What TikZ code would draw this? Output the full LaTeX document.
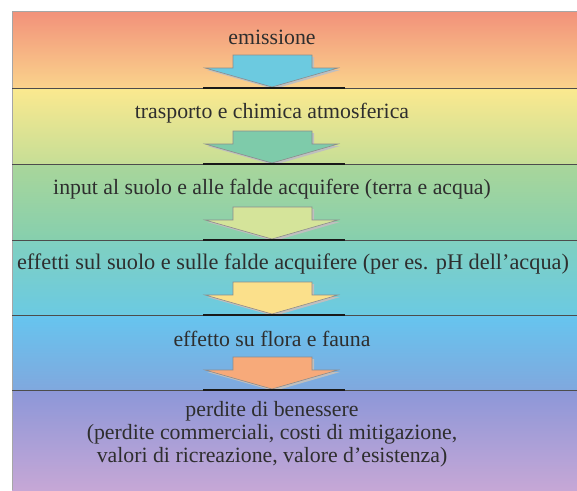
\documentclass[tikz,border=0pt]{standalone}
\usepackage{fontspec}
\setmainfont{Liberation Serif}
\newfontfamily\tnrfont{Liberation Serif}
\begin{document}
\begin{tikzpicture}[x=1pt,y=-1pt,
  lbl/.style={font=\tnrfont\fontsize{21.8}{23}\selectfont, text=black!82, inner sep=0pt, align=center},
  divider/.style={draw=black!70, line width=0.8pt},
  base/.style={draw=black!90, line width=1.8pt},
  blockarrow/.style={draw=black!45, line width=0.6pt, line join=miter}]
\useasboundingbox (0,0) rectangle (577,490);
\definecolor{cA}{HTML}{F2917A}\definecolor{cB}{HTML}{FAD38C}
\definecolor{cC}{HTML}{FBE98F}\definecolor{cD}{HTML}{C6DE96}
\definecolor{cE}{HTML}{A9D69A}\definecolor{cF}{HTML}{86CFAE}
\definecolor{cG}{HTML}{80D0C0}\definecolor{cH}{HTML}{6BCAE2}
\definecolor{cI}{HTML}{66C5EF}\definecolor{cJ}{HTML}{80A8DE}
\definecolor{cK}{HTML}{8C97D8}\definecolor{cL}{HTML}{C6A7D6}
\definecolor{a1}{HTML}{6CCAE0}\definecolor{a2}{HTML}{7ECBAA}
\definecolor{a3}{HTML}{D5E49A}\definecolor{a4}{HTML}{FBE08B}
\definecolor{a5}{HTML}{F7AA7A}
% bands
\shade[top color=cA, bottom color=cB] (12,11) rectangle (577,88);
\shade[top color=cC, bottom color=cD] (12,88) rectangle (577,164);
\shade[top color=cE, bottom color=cF] (12,164) rectangle (577,240);
\shade[top color=cG, bottom color=cH] (12,240) rectangle (577,315);
\shade[top color=cI, bottom color=cJ] (12,315) rectangle (577,390);
\shade[top color=cK, bottom color=cL] (12,390) rectangle (577,490);
% frame
\draw[black!35, line width=1pt] (12,490) -- (12,11) -- (577,11);
\foreach \y in {88,164,240,315,390} \draw[divider] (12,\y) -- (577,\y);
% arrows
\foreach \t/\c in {0/a1,76/a2,152/a3,227/a4,302/a5}{
  \begin{scope}[yshift=-\t pt]
  \fill[black!25] (235,57) -- (314,57) -- (314,70) -- (340,70) -- (274,89) -- (207,70) -- (235,70) -- cycle;
  \draw[blockarrow, fill=\c] (233,55) -- (312,55) -- (312,68) -- (338,68) -- (272,87) -- (205,68) -- (233,68) -- cycle;
  \draw[base] (203,88) -- (345,88);
  \end{scope}}
% labels
\node[lbl] (n1) at (272,37) {emissione};
\node[lbl] (n2) at (272,113) {trasporto e chimica atmosferica};
\node[lbl] (n3) at (272,189) {input al suolo e alle falde acquifere (terra e acqua)};
\node[lbl, font=\tnrfont\fontsize{22.3}{24}\selectfont] (n4) at (293,264) {effetti sul suolo e sulle falde acquifere (per es. pH dell’acqua)};
\node[lbl] (n5) at (272,339) {effetto su flora e fauna};
\node[lbl] (n6) at (272,434) {perdite di benessere\\(perdite commerciali, costi di mitigazione,\\valori di ricreazione, valore d’esistenza)};
\end{tikzpicture}
\end{document}
